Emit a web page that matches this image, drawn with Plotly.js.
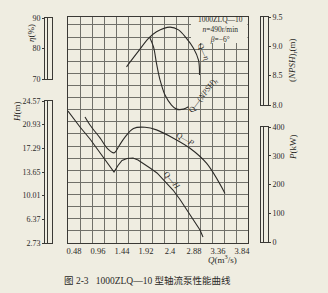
<!DOCTYPE html>
<html><head><meta charset="utf-8">
<script src="https://cdn.plot.ly/plotly-3.0.1.min.js"></script>
<style>html,body{margin:0;padding:0;background:#efede1;} #chart{width:328px;height:293px;}</style>
</head><body><div id="chart"></div>
<script>
// ---- data ----
const Q_TICKS = [0.48, 0.96, 1.44, 1.92, 2.4, 2.88, 3.36, 3.84];
const Q_TICK_TEXT = ['0.48', '0.96', '1.44', '1.92', '2.4', '2.88', '3.36', '3.84'];
const ETA_TICKS = [70, 80, 90];
const H_TICKS = [2.73, 6.37, 10.01, 13.65, 17.29, 20.93, 24.57];
const H_TICK_TEXT = ['2.73', '6.37', '10.01', '13.65', '17.29', '20.93', '24.57'];
const NPSH_TICKS = [8.0, 8.5, 9.0, 9.5];
const NPSH_TICK_TEXT = ['8.0', '8.5', '9.0', '9.5'];
const P_TICKS = [0, 100, 200, 300, 400];

// Q–η
const etaQ = [1.53, 1.75, 1.97, 2.13, 2.40, 2.57, 2.73, 2.87, 2.97, 2.99];
const etaV = [74.0, 78.7, 83.3, 85.5, 87.0, 86.1, 83.3, 80.1, 76.2, 71.3];
// Q–(NPSH)r
const npshQ = [1.99, 2.07, 2.13, 2.20, 2.30, 2.43, 2.53, 2.67, 2.77];
const npshV = [9.16, 8.99, 8.71, 8.43, 8.17, 8.00, 7.93, 7.93, 7.97];
// Q–P
const pQ = [0.70, 0.80, 1.00, 1.16, 1.28, 1.38, 1.50, 1.67, 1.90, 2.13, 2.47, 2.80, 3.13, 3.50];
const pV = [435, 407, 362, 323, 310, 334, 365, 395, 399, 390, 361, 326, 274, 169];
// Q–H
const hQ = [0.36, 0.60, 0.80, 1.00, 1.20, 1.28, 1.36, 1.44, 1.54, 1.66, 1.76, 1.86, 2.00, 2.14, 2.30, 2.46, 2.60, 2.74, 2.88, 3.00, 3.06];
const hV = [23.03, 20.57, 18.73, 16.65, 14.57, 13.65, 14.65, 15.42, 15.73, 15.80, 15.50, 15.03, 14.27, 13.50, 12.27, 10.88, 9.42, 7.81, 6.19, 4.73, 3.65];

// ---- styling / geometry ----
const W = 328, HGT = 293;
const px = v => v / W;
const py = v => 1 - v / HGT;
const BG = '#efede1';
const INK = '#2b2a27';
const GRID = '#707069';
const BORDER = '#3a3935';
const SERIF = 'Liberation Serif, DejaVu Serif, serif';
const tf = {family: SERIF, size: 8, color: INK};

const lineStyle = {color: INK, width: 1.1, shape: 'spline', smoothing: 1};

const traces = [
  {type: 'scatter', mode: 'lines', x: etaQ, y: etaV, xaxis: 'x', yaxis: 'y2', line: lineStyle, hoverinfo: 'skip'},
  {type: 'scatter', mode: 'lines', x: npshQ, y: npshV, xaxis: 'x', yaxis: 'y3', line: lineStyle, hoverinfo: 'skip'},
  {type: 'scatter', mode: 'lines', x: hQ, y: hV, xaxis: 'x', yaxis: 'y4', line: {color: INK, width: 1.1}, hoverinfo: 'skip'},
  {type: 'scatter', mode: 'lines', x: pQ, y: pV, xaxis: 'x', yaxis: 'y5', line: lineStyle, hoverinfo: 'skip'},
  {type: 'scatter', x: [], y: [], xaxis: 'x', yaxis: 'y'},
  {type: 'scatter', x: [], y: [], xaxis: 'x3', yaxis: 'y6'},
  {type: 'scatter', x: [], y: [], xaxis: 'x4', yaxis: 'y7'},
  {type: 'scatter', x: [], y: [], xaxis: 'x5', yaxis: 'y8'},
  {type: 'scatter', x: [], y: [], xaxis: 'x6', yaxis: 'y9'}
];

const plotTop = 16.5, plotBot = 243;
const hidden = r => ({overlaying: 'y', range: r, visible: false, fixedrange: true});

const barX = (x0, x1, anchor) => ({
  domain: [px(x0), px(x1)], anchor: anchor, range: [0, 1],
  showline: true, mirror: true, linecolor: BORDER, linewidth: 1,
  ticks: '', showticklabels: false, tickmode: 'array', tickvals: [0.4],
  showgrid: true, gridcolor: BORDER, gridwidth: 1, zeroline: false, fixedrange: true
});
const barY = (y0, y1, anchor, range, vals, text, side) => ({
  domain: [py(y1), py(y0)], anchor: anchor, range: range,
  tickmode: 'array', tickvals: vals, ticktext: text || vals.map(String),
  ticks: 'outside', ticklen: 2, tickcolor: BORDER, side: side,
  showline: true, mirror: true, linecolor: BORDER, linewidth: 1,
  showgrid: false, zeroline: false, tickfont: tf, fixedrange: true
});

const ann = (text, x, y, size, extra) => Object.assign({
  text: text, x: px(x), y: py(y), xref: 'paper', yref: 'paper', showarrow: false,
  xanchor: 'center', yanchor: 'middle',
  font: {family: SERIF, size: size, color: INK}
}, extra || {});

const layout = {
  width: W, height: HGT,
  margin: {l: 0, r: 0, t: 0, b: 0},
  paper_bgcolor: BG, plot_bgcolor: BG,
  showlegend: false,
  xaxis: {
    domain: [px(68), px(248)], range: [0.36, 3.96], anchor: 'y',
    tickmode: 'array', tickvals: Q_TICKS, ticktext: Q_TICK_TEXT, ticks: '',
    showgrid: false,
    minor: {tickmode: 'linear', tick0: 0.36, dtick: 0.24, showgrid: true, gridcolor: GRID, gridwidth: 1, ticks: ''},
    showline: true, mirror: true, linecolor: BORDER, linewidth: 1,
    zeroline: false, tickfont: {family: SERIF, size: 8.5, color: INK}, fixedrange: true
  },
  yaxis: {
    domain: [py(plotBot), py(plotTop)], range: [0, 18.7], anchor: 'x',
    tickmode: 'linear', tick0: 0, dtick: 1, showgrid: true, gridcolor: GRID, gridwidth: 1,
    showticklabels: false, ticks: '', showline: true, mirror: true, linecolor: BORDER, linewidth: 1,
    zeroline: false, fixedrange: true
  },
  yaxis2: hidden([16.23, 90.49]),
  yaxis3: hidden([5.648, 9.5085]),
  yaxis4: hidden([2.73, 37.57]),
  yaxis5: hidden([-3.48, 784.3]),
  xaxis3: barX(45, 52, 'y6'),
  yaxis6: barY(18, 79, 'x3', [70, 90], ETA_TICKS, null, 'left'),
  xaxis4: barX(45, 52, 'y7'),
  yaxis7: barY(101, 243, 'x4', [2.73, 24.57], H_TICKS, H_TICK_TEXT, 'left'),
  xaxis5: barX(261, 268, 'y8'),
  yaxis8: barY(17, 105, 'x5', [8.0, 9.5], NPSH_TICKS, NPSH_TICK_TEXT, 'right'),
  xaxis6: barX(261, 268, 'y9'),
  yaxis9: barY(127, 242, 'x6', [0, 400], P_TICKS, null, 'right'),
  shapes: [
    {type: 'rect', xref: 'paper', yref: 'paper', x0: px(191), x1: px(247.4), y0: py(43), y1: py(17.1),
     fillcolor: BG, line: {width: 0}, layer: 'above'}
  ],
  annotations: [
    ann('1000ZLQ—10<br><i>n</i>=490r/min<br><i>β</i>=−6°', 220, 30, 7.5, {align: 'center'}),
    ann('Q—<i>η</i>', 203, 52, 8, {textangle: 65}),
    ann('Q—(<i>NPSH</i>)<sub>r</sub>', 203, 96, 8, {textangle: -53}),
    ann('Q—<i>P</i>', 186, 139, 8, {textangle: 30}),
    ann('Q—<i>H</i>', 172, 180, 8, {textangle: 50}),
    ann('<i>η</i>(%)', 31, 33, 9, {textangle: -90}),
    ann('<i>H</i>(m)', 17, 112, 9, {textangle: -90}),
    ann('(<i>NPSH</i>)<sub>r</sub>(m)', 293, 60, 9, {textangle: -90}),
    ann('<i>P</i>(kW)', 293, 147, 9, {textangle: -90}),
    ann('<i>Q</i>(m<sup>3</sup>/s)', 222, 259, 9),
    {text: '图 2-3   1000ZLQ—10 型轴流泵性能曲线', x: px(62), y: py(280), xref: 'paper', yref: 'paper', showarrow: false,
     xanchor: 'left', yanchor: 'middle', font: {family: 'Liberation Serif, Noto Sans CJK SC, serif', size: 9.5, color: INK}}
  ]
};

Plotly.newPlot('chart', traces, layout, {displayModeBar: false, staticPlot: true});
</script></body></html>
